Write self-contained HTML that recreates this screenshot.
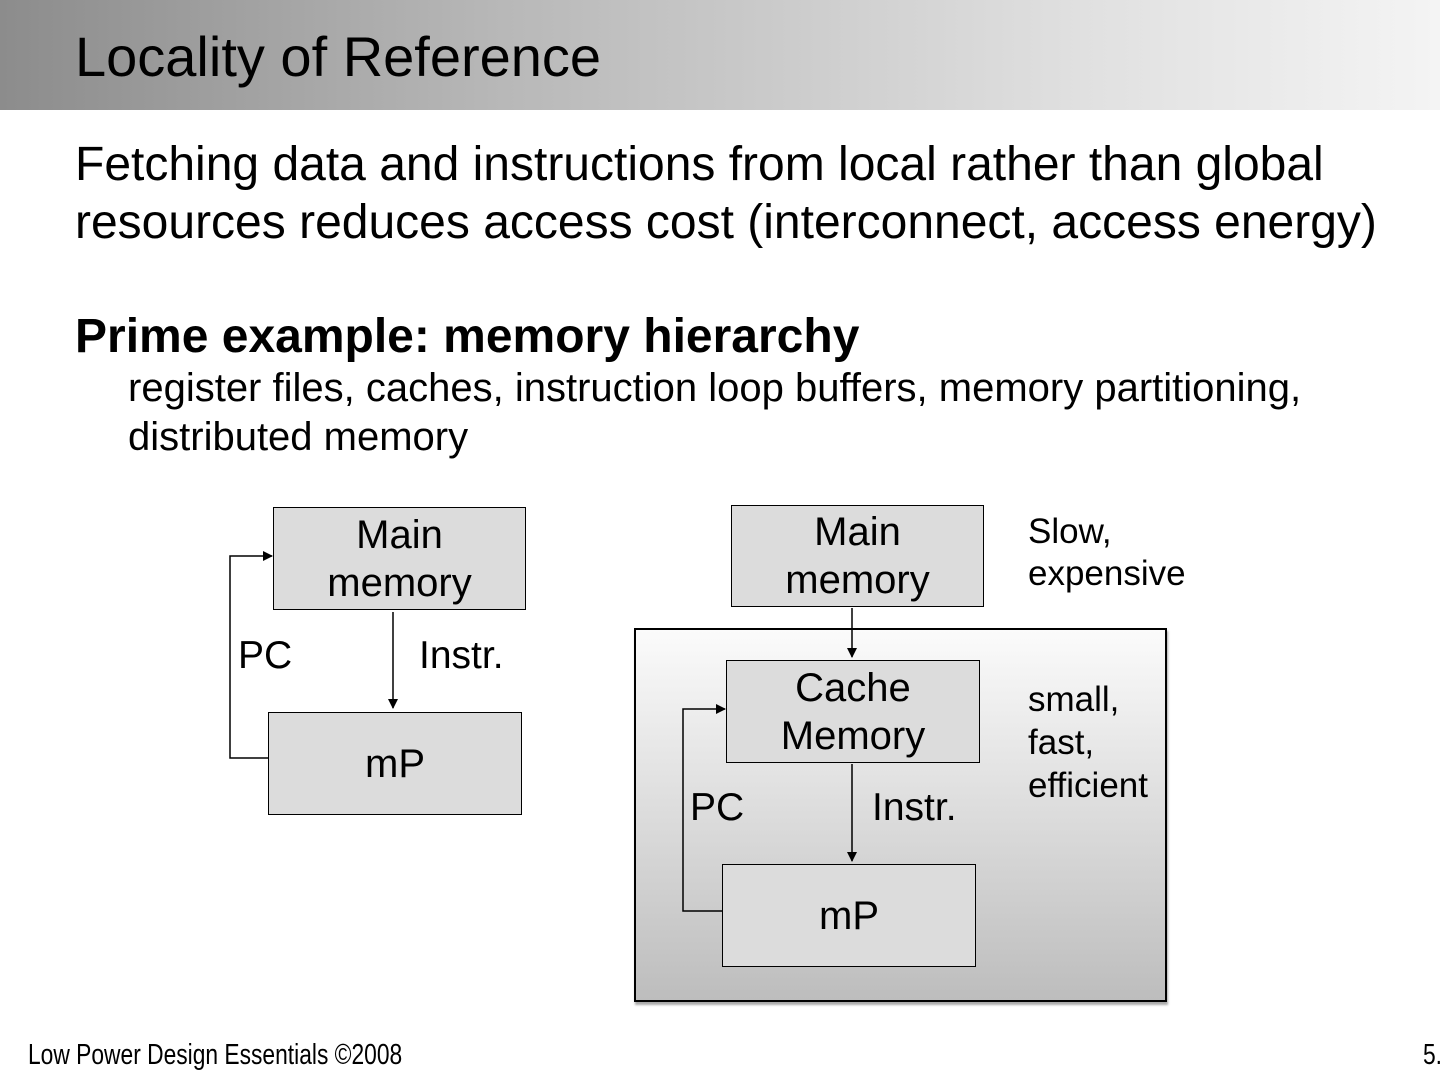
<!DOCTYPE html>
<html><head><meta charset="utf-8"><style>
*{margin:0;padding:0;box-sizing:border-box}
body{width:1440px;height:1080px;position:relative;background:#fff;font-family:"Liberation Sans",sans-serif;color:#000;overflow:hidden}
.a{position:absolute;white-space:nowrap}
.box{position:absolute;background:#dcdcdc;border:1.8px solid #000;display:flex;align-items:center;justify-content:center;text-align:center;font-size:40px;line-height:48px}
</style></head><body>
<div class="a" style="left:0;top:0;width:1440px;height:110px;background:linear-gradient(90deg,#8c8c8c 0%,#b8b8b8 35%,#e0e0e0 75%,#f4f4f4 100%)"></div>
<div class="a" style="left:75px;top:25px;font-size:56px;line-height:64px">Locality of Reference</div>
<div class="a" style="left:75px;top:136px;font-size:48px;line-height:58px">Fetching data and instructions from local rather than global<br>resources reduces access cost (interconnect, access energy)</div>
<div class="a" style="left:75px;top:309px;font-size:48px;line-height:56px;font-weight:bold">Prime example: memory hierarchy</div>
<div class="a" style="left:128px;top:364px;font-size:40px;line-height:49px">register files, caches, instruction loop buffers, memory partitioning,<br>distributed memory</div>

<div class="a" style="left:634px;top:628px;width:533px;height:374px;border:2px solid #000;background:linear-gradient(180deg,#fbfbfb 0%,#bdbdbd 100%);box-shadow:1px 3px 2px #aaa"></div>

<div class="box" style="left:273px;top:507px;width:253px;height:103px">Main<br>memory</div>
<div class="box" style="left:268px;top:712px;width:254px;height:103px">mP</div>
<div class="box" style="left:731px;top:505px;width:253px;height:102px">Main<br>memory</div>
<div class="box" style="left:726px;top:660px;width:254px;height:103px">Cache<br>Memory</div>
<div class="box" style="left:722px;top:864px;width:254px;height:103px">mP</div>

<svg class="a" style="left:0;top:0" width="1440" height="1080">
<defs><marker id="m" markerWidth="10" markerHeight="10" refX="9" refY="5" orient="auto" markerUnits="userSpaceOnUse"><path d="M0,0 L10,5 L0,10z" fill="#000"/></marker></defs>
<g stroke="#000" stroke-width="1.5" fill="none">
<path d="M393,612 V708" marker-end="url(#m)"/>
<path d="M268,758 H230 V556 H272" marker-end="url(#m)"/>
<path d="M852,608 V657" marker-end="url(#m)"/>
<path d="M852,764 V861" marker-end="url(#m)"/>
<path d="M722,911 H683 V709 H725" marker-end="url(#m)"/>
</g></svg>

<div class="a" style="left:238px;top:634px;font-size:39px">PC</div>
<div class="a" style="left:419px;top:634px;font-size:39px">Instr.</div>
<div class="a" style="left:690px;top:786px;font-size:39px">PC</div>
<div class="a" style="left:872px;top:786px;font-size:39px">Instr.</div>
<div class="a" style="left:1028px;top:511px;font-size:35px;line-height:42px">Slow,<br>expensive</div>
<div class="a" style="left:1028px;top:678px;font-size:35px;line-height:43px">small,<br>fast,<br>efficient</div>

<div class="a" style="left:28px;top:1039px;font-size:28.5px;transform:scaleX(0.8);transform-origin:left top">Low Power Design Essentials ©2008</div>
<div class="a" style="left:1423px;top:1039px;font-size:28.5px;transform:scaleX(0.8);transform-origin:left top">5.</div>
</body></html>
